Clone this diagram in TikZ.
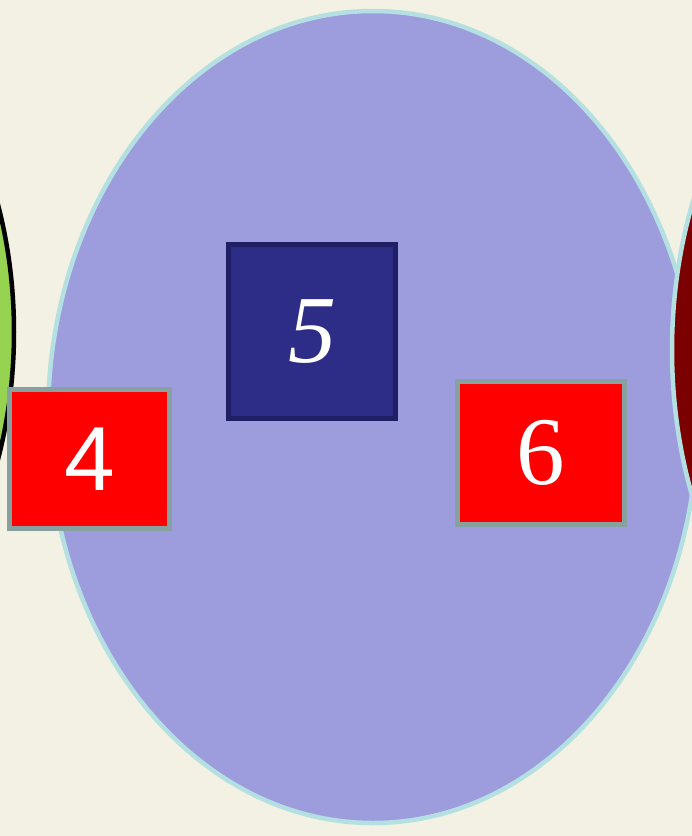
\documentclass[tikz,border=0pt]{standalone}
\usepackage{fontspec}
\setmainfont{Liberation Serif}
\newfontfamily\sansdigit{Liberation Sans}
\definecolor{paper}{HTML}{F3F0E4}
\definecolor{lavender}{HTML}{9D9CDD}
\definecolor{paleline}{HTML}{B4E0E2}
\definecolor{leafgreen}{HTML}{95D350}
\definecolor{darkred}{HTML}{7B0000}
\definecolor{navyfill}{HTML}{2D2D88}
\definecolor{navyline}{HTML}{1F1F66}
\definecolor{greyline}{HTML}{87A0A0}
\tikzset{
  numbox/.style={draw=greyline, fill=red, line width=5pt, inner sep=0pt, text=white, font=\fontsize{92}{92}\selectfont},
  navybox/.style={draw=navyline, fill=navyfill, line width=5pt, inner sep=0pt, text=white, font=\fontsize{96}{96}\selectfont\itshape}
}
\begin{document}
\begin{tikzpicture}[x=1pt,y=-1pt]
\path[fill=paper] (0,0) rectangle (692,836);
\useasboundingbox (0,0) rectangle (692,836);
\begin{scope}
\clip (0,0) rectangle (692,836);
\draw[fill=lavender, draw=paleline, line width=4.5pt] (373,417) ellipse [x radius=325, y radius=406];
\draw[fill=leafgreen, draw=black, line width=4.5pt] (-311,332) ellipse [x radius=325, y radius=410];
\draw[fill=darkred, draw=paleline, line width=4.5pt] (997,350) ellipse [x radius=325, y radius=420];
\end{scope}
\node[navybox, minimum width=167pt, minimum height=174pt] (n5) at (312,331.5) {5};
\node[numbox, minimum width=160pt, minimum height=139pt, font=\fontsize{91}{91}\selectfont\sansdigit] (n4) at (89.5,459) {4};
\node[numbox, minimum width=167pt, minimum height=143pt, font=\fontsize{97}{97}\selectfont] (n6) at (541,453) {6};
\end{tikzpicture}
\end{document}
